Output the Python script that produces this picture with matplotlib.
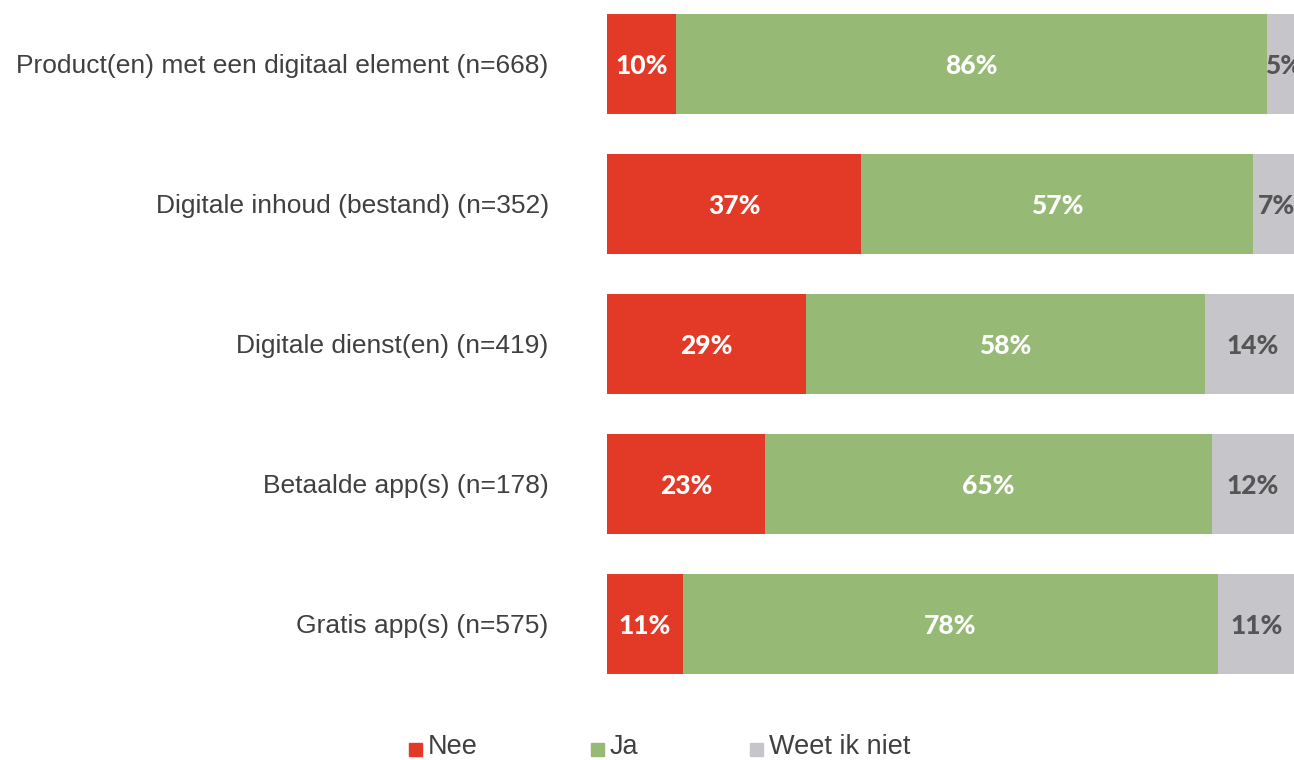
import matplotlib
matplotlib.use("Agg")
import matplotlib.pyplot as plt
from matplotlib.patches import Rectangle

categories = [
    "Product(en) met een digitaal element (n=668)",
    "Digitale inhoud (bestand) (n=352)",
    "Digitale dienst(en) (n=419)",
    "Betaalde app(s) (n=178)",
    "Gratis app(s) (n=575)",
]
nee = [10, 37, 29, 23, 11]
ja = [86, 57, 58, 65, 78]
weet_niet = [5, 7, 14, 12, 11]
series_names = ["Nee", "Ja", "Weet ik niet"]

colors = ["#E23A26", "#96BA76", "#C6C5CA"]
text_colors = ["white", "white", "#555555"]

W, H = 1294, 760
fig = plt.figure(figsize=(W / 100, H / 100), dpi=100)

ax_left = 607 / W
ax_top_px = 0
ax_bot_px = 693.5
ax = fig.add_axes([ax_left, 1 - ax_bot_px / H, 1 - ax_left, (ax_bot_px - ax_top_px) / H])
pitch = 140.0
ax.set_ylim(4 + (ax_bot_px - 623.5) / pitch, -(63.5 - ax_top_px) / pitch)
ax.set_xlim(0, 100)

y = list(range(len(categories)))
bar_h = 100 / pitch
left = [0] * len(categories)
for name, vals, c, tc in zip(series_names, [nee, ja, weet_niet], colors, text_colors):
    ax.barh(y, vals, left=left, height=bar_h, color=c, edgecolor="none", label=name)
    for yi, (l, v) in enumerate(zip(left, vals)):
        ax.text(l + v / 2, yi + 0.015, f"{v}%", ha="center", va="center",
                color=tc, fontsize=19, fontweight="black", family="Lato")
    left = [a + b for a, b in zip(left, vals)]

ax.set_yticks(y)
ax.set_yticklabels(categories, fontsize=19, color="#404040", family="Liberation Sans")
ax.tick_params(axis="y", length=0, pad=42)
ax.set_xticks([])
for s in ax.spines.values():
    s.set_visible(False)

# legend
leg_items = [(409, "Nee"), (591, "Ja"), (750, "Weet ik niet")]
for (x0, name), c in zip(leg_items, colors):
    fig.patches.append(Rectangle((x0 / W, 1 - 756 / H), 13 / W, 13 / H,
                                 transform=fig.transFigure, color=c, figure=fig))
    fig.text((x0 + 19) / W, 1 - 747 / H, name, ha="left", va="center",
             fontsize=19.5, color="#404040", family="Liberation Sans")

fig.savefig("out.png", dpi=100)
